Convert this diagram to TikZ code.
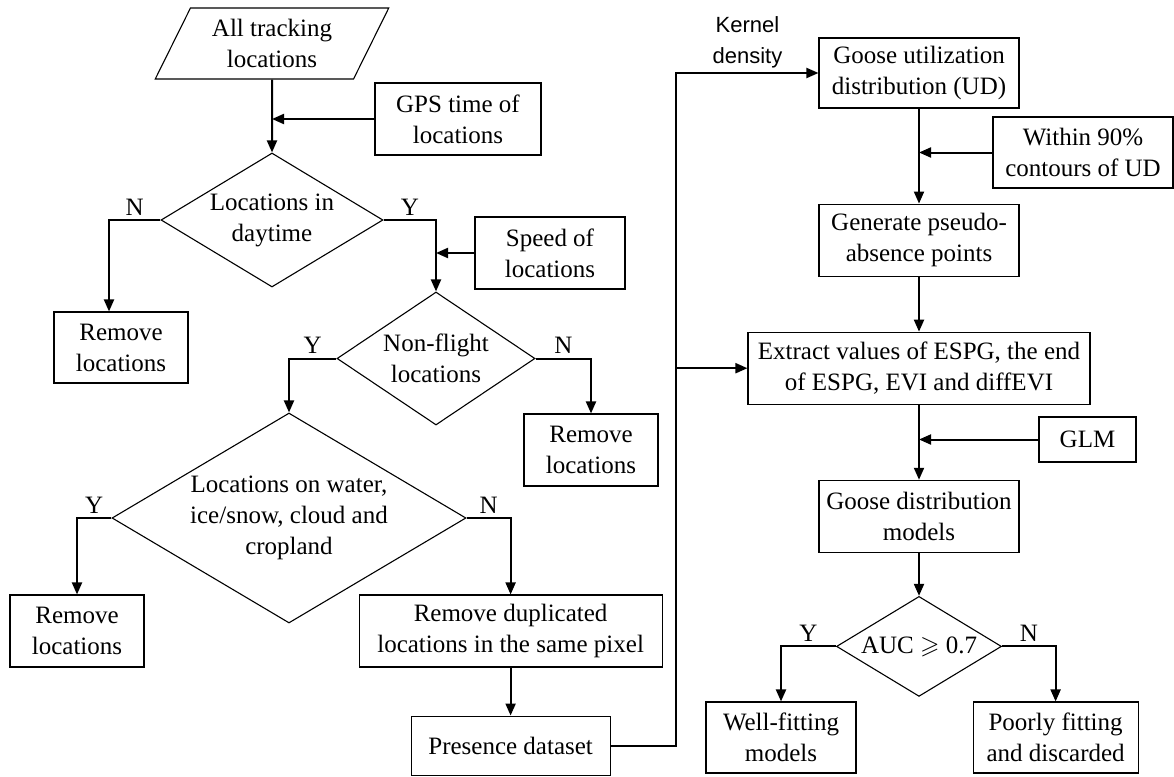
\documentclass[tikz,border=0pt]{standalone}
\usepackage{amsmath}
\usepackage{amssymb}
\usepackage{fontspec}
\setmainfont{Liberation Serif}
\newfontfamily\kernelfont{Liberation Sans}
\usepackage{tikz}
\usetikzlibrary{positioning,shapes.geometric,arrows.meta}

\begin{document}
\begin{tikzpicture}[
  x=1pt, y=1pt,
  font=\fontsize{25}{31}\selectfont,
  every node/.style={align=center,inner sep=2pt},
  box/.style={draw,line width=1.1pt,minimum width=#1,minimum height=72pt},
  box/.default=134pt,
  decision/.style={draw,diamond,line width=1.1pt,inner sep=0pt},
  io/.style={draw,trapezium,trapezium left angle=63,trapezium right angle=117,
    trapezium stretches=true,line width=1.1pt,minimum width=234pt,minimum height=71pt},
  arrow/.style={draw,line width=2pt,-{Triangle[length=12pt,width=10pt]}},
  yn/.style={above=3pt,inner sep=1pt}
]
\useasboundingbox (0,0) rectangle (1174,-776);

% left part: cleaning of locations
\node[io] (all) at (272,-43.5) {All tracking\\locations};
\node[box=166pt] (gps) at (458,-119) {GPS time of\\locations};
\node[decision,aspect=1.66,minimum width=222pt,minimum height=134pt] (d1) at (272,-220) {Locations in\\daytime};
\node[box,minimum height=71pt] (rm1) at (121,-347.5) {Remove\\locations};
\node[decision,aspect=1.49,minimum width=198pt,minimum height=133pt] (d2) at (436,-358.5) {Non-flight\\locations};
\node[box=150pt] (speed) at (550,-253) {Speed of\\locations};
\node[box] (rm2) at (591,-450) {Remove\\locations};
\node[decision,aspect=1.69,minimum width=354pt,minimum height=210pt] (d3) at (289,-518) {Locations on water,\\ice/snow, cloud and\\cropland};
\node[box] (rm3) at (77,-631) {Remove\\locations};
\node[box=303pt,right=214pt of rm3] (dup) {Remove duplicated\\locations in the same pixel};
\node[box=199pt,minimum height=59pt,below=48pt of dup] (pres) {Presence dataset};

% right part: models
\node[box=200pt,minimum height=70pt] (ud) at (919,-73) {Goose utilization\\distribution (UD)};
\node[box=180pt,minimum height=71pt] (within) at (1083,-152.5) {Within 90\%\\contours of UD};
\node[box=200pt,below=95pt of ud] (gen) {Generate pseudo-\\absence points};
\node[box=342pt,below=55pt of gen] (ext) {Extract values of ESPG, the end\\of ESPG, EVI and diffEVI};
\node[box=97pt,minimum height=45pt] (glm) at (1087.5,-439.5) {GLM};
\node[box=200pt,below=75pt of ext] (gdm) {Goose distribution\\models};
\node[decision,aspect=1.65,minimum width=165pt,minimum height=100pt,below=43pt of gdm] (d4) {AUC $\geqslant$ 0.7};
\node[box=150pt,minimum height=71pt] (well) at (781,-737.5) {Well-fitting\\models};
\node[box=165pt,minimum height=71pt,right=116pt of well] (poor) {Poorly fitting\\and discarded};

\draw[arrow] (all) -- (d1);
\draw[arrow] (gps.west) -- (gps.west -| all);
\draw[arrow] (d1.west) -| ([xshift=-12pt]rm1.north) node[yn,pos=0.25] {N};
\draw[arrow] (d1.east) -| (d2.north) node[yn,pos=0.25] {Y};
\draw[arrow] (speed.west) -- (speed.west -| d2.north);
\draw[arrow] (d2.west) -| (d3.north) node[yn,pos=0.25] {Y};
\draw[arrow] (d2.east) -| (rm2.north) node[yn,pos=0.25] {N};
\draw[arrow] (d3.west) -| (rm3.north) node[yn,pos=0.25] {Y};
\draw[arrow] (d3.east) -| (dup.north) node[yn,pos=0.25] {N};
\draw[arrow] (dup) -- (pres);
\draw[arrow] (pres.east) -| ([xshift=-142pt]ud.west) -- (ud.west)
  node[midway,above=2pt,font=\kernelfont\fontsize{22}{31}\selectfont] {Kernel\\density};
\draw[arrow] ([xshift=-71pt]ext.west) -- (ext.west);
\draw[arrow] (ud) -- (gen);
\draw[arrow] (within.west) -- (within.west -| ud.south);
\draw[arrow] (gen) -- (ext);
\draw[arrow] (ext) -- (gdm);
\draw[arrow] (glm.west) -- (glm.west -| ext.south);
\draw[arrow] (gdm) -- (d4);
\draw[arrow] (d4.west) -| (well.north) node[yn,pos=0.25] {Y};
\draw[arrow] (d4.east) -| (poor.north) node[yn,pos=0.25] {N};
\end{tikzpicture}
\end{document}
